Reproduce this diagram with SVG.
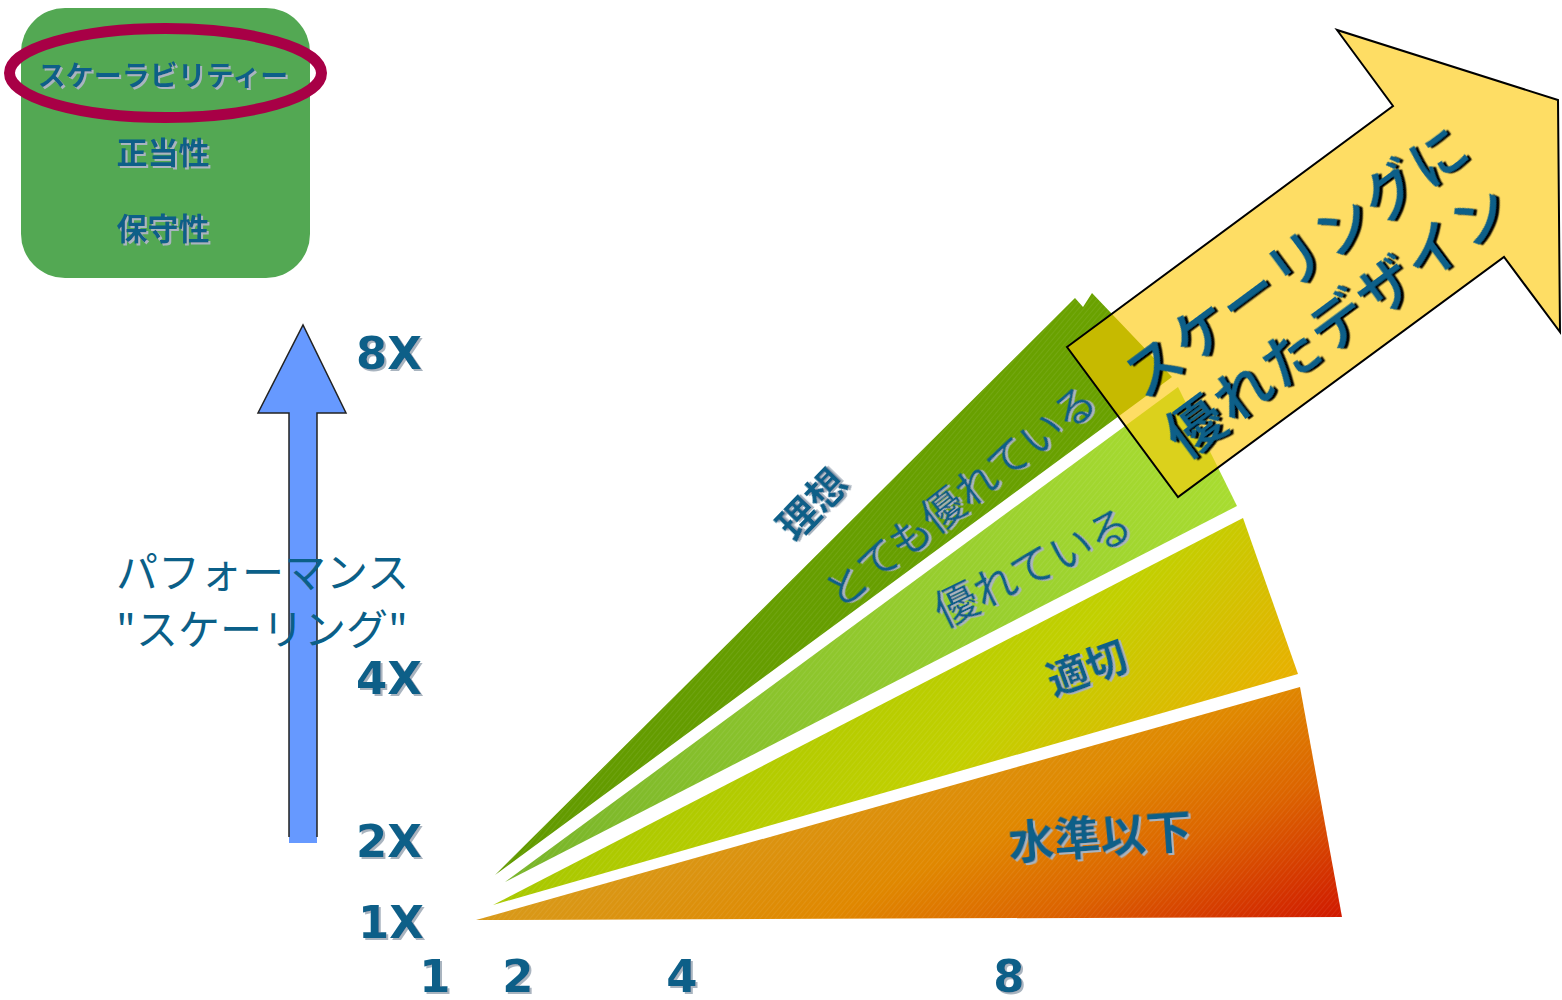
<svg xmlns="http://www.w3.org/2000/svg" width="1562" height="1000" viewBox="0 0 1562 1000">
<style>
.t{fill:#0b5f88;font-family:"Noto Sans CJK JP","Noto Sans",sans-serif}
.b{font-weight:bold}
.ax{fill:#0b5f88;font-family:"DejaVu Sans","Liberation Sans",sans-serif;font-weight:bold;font-size:45px}
</style>
<defs>
<filter id="ls" x="-10%" y="-20%" width="130%" height="150%"><feDropShadow dx="2" dy="2" stdDeviation="0.3" flood-color="#a9b4bf"/></filter>
<filter id="ds" x="-10%" y="-20%" width="130%" height="150%"><feDropShadow dx="2.5" dy="2.5" stdDeviation="0" flood-color="#000"/></filter>
<pattern id="hatch" width="4" height="4" patternUnits="userSpaceOnUse" patternTransform="rotate(40)"><line x1="0" y1="0" x2="0" y2="4" stroke="#fff" stroke-width="1" stroke-opacity="0.14"/></pattern>
<linearGradient id="gDark" gradientUnits="userSpaceOnUse" x1="495" y1="875" x2="1172" y2="330"><stop offset="0" stop-color="#629a00"/><stop offset="1" stop-color="#6aa200"/></linearGradient>
<linearGradient id="gLight" gradientUnits="userSpaceOnUse" x1="505" y1="882" x2="1237" y2="506"><stop offset="0" stop-color="#78b42a"/><stop offset="1" stop-color="#a8dc30"/></linearGradient>
<linearGradient id="gMid" gradientUnits="userSpaceOnUse" x1="700" y1="700" x2="985" y2="985"><stop offset="0" stop-color="#a8c800"/><stop offset="0.55" stop-color="#c2d000"/><stop offset="1" stop-color="#e8b000"/></linearGradient>
<linearGradient id="gLow" gradientUnits="userSpaceOnUse" x1="478" y1="918" x2="650" y2="1263"><stop offset="0" stop-color="#d89a1a"/><stop offset="0.4" stop-color="#e08800"/><stop offset="0.65" stop-color="#dc6400"/><stop offset="1" stop-color="#d01800"/></linearGradient>
<clipPath id="arrowClip"><polygon points="1067,347 1393,106 1337,30 1558,100 1560,332 1504,257 1178,497"/></clipPath>
</defs>

<g id="box">
<rect x="21" y="8" width="289" height="270" rx="44" fill="#53a853"/>
<ellipse cx="165.5" cy="73" rx="156" ry="44.5" fill="none" stroke="#a80046" stroke-width="11"/>
<text class="t b" x="163" y="86" font-size="28" text-anchor="middle" filter="url(#ls)">スケーラビリティー</text>
<text class="t b" x="163" y="164" font-size="31" text-anchor="middle" filter="url(#ls)">正当性</text>
<text class="t b" x="163" y="240" font-size="31" text-anchor="middle" filter="url(#ls)">保守性</text>
</g>

<g id="perf-arrow">
<polygon points="289,843 289,413 258,413 303,325 346,413 317,413 317,843" fill="#6699ff"/>
<polyline points="289,837 289,413 258,413 303,325 346,413 317,413 317,837" fill="none" stroke="#222" stroke-width="1.5"/>
</g>

<g id="perf-label">
<text class="t" x="116" y="588" font-size="42">パフォーマンス</text>
<text class="t" x="116" y="645" font-size="42">"スケーリング"</text>
</g>

<g id="y-axis">
<text class="ax" x="356" y="369" filter="url(#ls)">8X</text>
<text class="ax" x="356" y="694" filter="url(#ls)">4X</text>
<text class="ax" x="356" y="857" filter="url(#ls)">2X</text>
<text class="ax" x="358" y="938" filter="url(#ls)">1X</text>
</g>

<g id="x-axis">
<text class="ax" x="435" y="992" text-anchor="middle" filter="url(#ls)">1</text>
<text class="ax" x="518" y="992" text-anchor="middle" filter="url(#ls)">2</text>
<text class="ax" x="682" y="992" text-anchor="middle" filter="url(#ls)">4</text>
<text class="ax" x="1009" y="992" text-anchor="middle" filter="url(#ls)">8</text>
</g>

<g id="wedge-verygood">
<polygon points="495,875 1075,298 1083,307 1092,293 1172,377" fill="url(#gDark)"/>
<polygon points="495,875 1075,298 1083,307 1092,293 1172,377" fill="url(#hatch)"/>
</g>
<g id="wedge-good">
<polygon points="505,882 1178,387 1237,506" fill="url(#gLight)"/>
<polygon points="505,882 1178,387 1237,506" fill="url(#hatch)"/>
</g>
<g id="wedge-adequate">
<polygon points="493,905 1243,518 1298,674" fill="url(#gMid)"/>
<polygon points="493,905 1243,518 1298,674" fill="url(#hatch)"/>
</g>
<g id="wedge-below">
<polygon points="476,920 1300,687 1342,917" fill="url(#gLow)"/>
<polygon points="476,920 1300,687 1342,917" fill="url(#hatch)"/>
</g>

<g id="label-ideal" transform="translate(812,504) rotate(-46)">
<text class="t b" x="0" y="15" font-size="40" text-anchor="middle" filter="url(#ls)">理想</text>
</g>
<g id="label-verygood" transform="translate(960,496) rotate(-38)">
<text class="t" x="0" y="16" font-size="42" text-anchor="middle" filter="url(#ls)">とても優れている</text>
</g>
<g id="label-good" transform="translate(1033,567) rotate(-26)">
<text class="t" x="0" y="16" font-size="43" text-anchor="middle" filter="url(#ls)">優れている</text>
</g>
<g id="label-adequate" transform="translate(1087,668) rotate(-20)">
<text class="t b" x="0" y="15" font-size="41" text-anchor="middle" filter="url(#ls)">適切</text>
</g>
<g id="label-below" transform="translate(1100,836) rotate(-4)">
<text class="t b" x="0" y="17" font-size="46" text-anchor="middle" filter="url(#ls)">水準以下</text>
</g>

<g id="design-arrow">
<polygon points="1067,347 1393,106 1337,30 1558,100 1560,332 1504,257 1178,497" fill="#fedd64"/>
<g clip-path="url(#arrowClip)">
<polygon points="495,875 1075,298 1083,307 1092,293 1172,377" fill="#c6ba00"/>
<polygon points="505,882 1178,387 1237,506" fill="#dbd11c"/>
</g>
<polygon points="1067,347 1393,106 1337,30 1558,100 1560,332 1504,257 1178,497" fill="none" stroke="#000" stroke-width="2"/>
<g transform="translate(1122,422) rotate(-36.5)">
<text class="t" x="236" y="-5" font-size="57" font-weight="500" letter-spacing="2" text-anchor="middle" filter="url(#ds)">スケーリングに</text>
<text class="t" x="234" y="68" font-size="57" font-weight="500" letter-spacing="2" text-anchor="middle" filter="url(#ds)">優れたデザイン</text>
</g>
</g>
</svg>
